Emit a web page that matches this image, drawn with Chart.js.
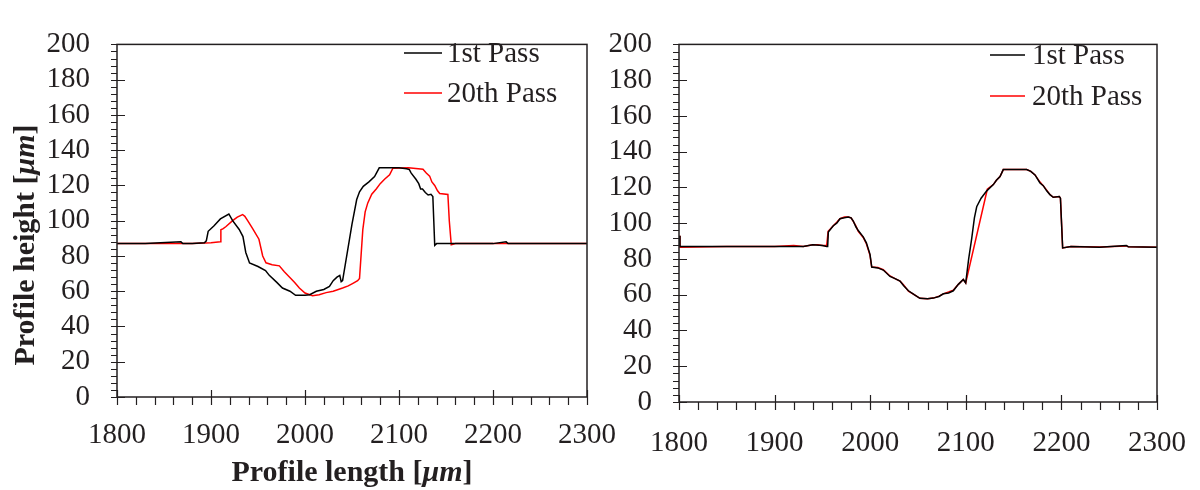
<!DOCTYPE html>
<html>
<head>
<meta charset="utf-8">
<title>Profile height</title>
<script src="https://cdn.jsdelivr.net/npm/chart.js@4.4.1/dist/chart.umd.min.js"></script>
<style>
  body { margin: 0; background: #fff; }
  #wrap { position: relative; width: 1200px; height: 490px; overflow: hidden; }
  canvas { position: absolute; top: 0; }
  #left { left: 0; }
  #right { left: 600px; }
</style>
</head>
<body>
<div id="wrap">
  <canvas id="left" width="640" height="490"></canvas>
  <canvas id="right" width="630" height="490"></canvas>
</div>
<script>
// series names
var seriesNames = ['1st Pass', '20th Pass']

// left panel: profile after 1st and 20th pass (x in um, height in um)
var leftPass1X = [1800,1830,1868,1870,1880,1893,1895,1897,1903,1910,1919,1923,1930,1934,1937,1941,1950,1958,1962,1970,1976,1984,1990,2000,2005,2012,2020,2026,2030,2034,2037,2038.5,2040,2050,2055,2058,2062,2068,2074,2079,2090,2100,2108,2111,2113,2118,2121,2123,2125,2128,2131,2134,2136,2137,2138,2140,2160,2200,2214,2216,2250,2300]
var leftPass1Y = [87,87,88,87,87,87.5,88.6,94,97,101,103.8,100,95,91,82,76,74,71.7,69,65,61.8,60,57.7,57.7,58,60,61,62.7,66,68,69,65.4,66,98,112,116.4,119.5,122,125,130,130,130,129.5,129,127,123.5,121,118,118,116,114.6,115,113.7,100,86,87,87,87,88,87,87,87]

var leftPass20X = [1800,1850,1880,1900,1910,1910.5,1913,1916,1923,1928,1933.6,1936,1939,1944,1951,1955,1958.5,1965,1972.7,1978,1983.4,1989,1994,2000,2008,2015,2022.5,2030,2040,2046,2051,2056,2058,2061.5,2064,2066.8,2071,2076,2080,2084.6,2090,2093.5,2110,2125.5,2129,2132.6,2135,2138,2141,2143.3,2152,2153.5,2155.6,2160,2200,2250,2300]
var leftPass20Y = [87,87,87,87.5,88,94.9,95.5,96.7,100,102,103.5,102.5,100,95.8,89.5,80,76.1,75,74.4,71,68.1,65,61.8,59,57.4,58,59.2,60,61.8,63,64.5,66,67.2,94.9,105,110.1,115,118.1,121,123.5,126,129.8,130,129.2,127,125.3,122,120,117,115.4,114.9,100,86.3,87,87,87,87]

// right panel
var rightPass1X = [1800,1801,1850,1900,1920,1930,1940,1950,1954.5,1955.5,1956.2,1961.4,1965,1968.4,1973,1977,1980,1982.3,1985,1987.5,1992.7,1996,1999.8,2001.6,2008,2013.7,2020.7,2026,2031.2,2035,2040,2046,2052,2060,2066,2072,2076.5,2082,2086.9,2092.2,2097.4,2099.9,2103,2106.2,2109,2111.4,2116,2121.9,2128.8,2132,2135.8,2139.2,2150,2163.7,2168,2172.4,2177.6,2181,2184.6,2188,2191.5,2197.8,2199,2201.3,2210,2240,2268,2270,2300]
var rightPass1Y = [93,87,87,87,87,87,88,87.5,87,87,95,98.6,100,102.5,103,103.5,103,101.2,98,95.9,92.4,89,82.6,75.5,75,73.8,70.2,69,67.6,65,62.2,60,58,57.8,58.1,59,60.5,61,62.2,65.8,68.5,66.6,80,91.5,103,109.2,114,118.1,121.6,124,126.1,130,130,130,129,127,122.5,121,118.1,116,114.5,114.9,114,86.2,87,86.5,87.5,86.8,86.5]

var rightPass20X = [1800,1801,1850,1900,1920,1930,1940,1945,1950,1954.5,1956,1961.4,1965,1968.4,1973,1977,1980,1982.3,1985,1987.5,1992.7,1996,1999.8,2001.6,2008,2013.7,2020.7,2026,2031.2,2035,2040,2046,2052,2060,2066,2072,2076.5,2082,2086.9,2092.2,2097.4,2099.9,2122.5,2128.8,2132,2135.8,2139.2,2150,2163.7,2168,2172.4,2177.6,2181,2184.6,2188,2191.5,2197.8,2199,2201.3,2210,2240,2268,2270,2300]
var rightPass20Y = [93,86.5,87,87,87.5,87,88,88,87.5,87.5,95.5,98.6,100.5,102.5,103.5,103.5,103,101,98.5,95.5,92,88.5,82,75.5,75.2,74,70.5,69,67.6,65.5,62,60,58,57.8,58.1,59.2,60.5,61.5,62.5,65.8,68.5,66.6,119,121.6,124,126.1,130,130,130,129,127,123,121,118.5,116,114.5,114.9,114,86.2,87,86.7,87.3,86.8,86.5]

var xTicks = [1800,1900,2000,2100,2200,2300]
var yTicks = [0,20,40,60,80,100,120,140,160,180,200]

var ink = '#231f20'
var serif = '"Liberation Serif", "Times New Roman", serif'
var lineColors = ['#000000', '#ff0000']

function pts(xs, ys) {
  return xs.map(function (x, i) { return {x: x, y: ys[i]} })
}

// box frame, major/minor tick marks, legend and axis titles
var decor = {
  id: 'decor',
  afterDraw: function (chart, args, opts) {
    var ctx = chart.ctx, a = chart.chartArea
    var x = chart.scales.x, y = chart.scales.y
    ctx.save()
    ctx.strokeStyle = ink
    ctx.lineWidth = 1.5
    ctx.strokeRect(a.left, a.top, a.right - a.left, a.bottom - a.top)
    ctx.lineWidth = 1.2
    ctx.beginPath()
    for (var v = 1800; v <= 2300; v += 20) {
      var px = Math.round(x.getPixelForValue(v)) + 0.5
      var major = v % 100 === 0
      ctx.moveTo(px, a.bottom - (major ? 7 : 0))
      ctx.lineTo(px, a.bottom + 8)
    }
    for (var w = 0; w <= 200; w += 4) {
      var py = Math.round(y.getPixelForValue(w)) + 0.5
      var big = w % 20 === 0
      ctx.moveTo(a.left - 6, py)
      ctx.lineTo(a.left + (big ? 8 : 0), py)
    }
    ctx.stroke()

    // legend
    ctx.font = '29px ' + serif
    ctx.textBaseline = 'middle'
    ctx.fillStyle = ink
    chart.data.datasets.forEach(function (ds, i) {
      var ly = opts.legY[i]
      ctx.strokeStyle = ds.borderColor
      ctx.lineWidth = 1.5
      ctx.beginPath()
      ctx.moveTo(opts.legX[0], ly)
      ctx.lineTo(opts.legX[1], ly)
      ctx.stroke()
      ctx.fillText(ds.label, opts.legX[2], ly + 1)
    })

    if (opts.titles) {
      drawTitle(ctx, 'Profile length [', 'μm', ']', (a.left + a.right) / 2, 473, 0)
      drawTitle(ctx, 'Profile height [', 'μm', ']', 26, 245, -Math.PI / 2)
    }
    ctx.restore()
  }
}

function drawTitle(ctx, pre, unit, post, cx, cy, rot) {
  var bold = 'bold 30px ' + serif
  var ital = 'italic bold 30px ' + serif
  ctx.font = bold
  var w1 = ctx.measureText(pre).width, w3 = ctx.measureText(post).width
  ctx.font = ital
  var w2 = ctx.measureText(unit).width
  var total = w1 + w2 + w3
  ctx.save()
  ctx.translate(cx, cy)
  ctx.rotate(rot)
  ctx.fillStyle = ink
  ctx.textBaseline = 'middle'
  ctx.textAlign = 'left'
  var sx = -total / 2
  ctx.font = bold
  ctx.fillText(pre, sx, 0)
  ctx.font = ital
  ctx.fillText(unit, sx + w1, 0)
  ctx.font = bold
  ctx.fillText(post, sx + w1 + w2, 0)
  ctx.restore()
}

function plain(v) { return String(v) }

function makeChart(id, p1, p20, box, decorOpts) {
  var tickFont = {family: serif, size: 29}
  return new Chart(document.getElementById(id), {
    type: 'line',
    data: {
      datasets: [
        {label: seriesNames[0], data: p1, borderColor: lineColors[0], borderWidth: 1.5, pointRadius: 0, tension: 0},
        {label: seriesNames[1], data: p20, borderColor: lineColors[1], borderWidth: 1.5, pointRadius: 0, tension: 0}
      ]
    },
    options: {
      responsive: false,
      animation: false,
      layout: {padding: {top: box.top, right: box.right, left: 0, bottom: 0}},
      plugins: {legend: {display: false}, tooltip: {enabled: false}, decor: decorOpts},
      scales: {
        x: {
          type: 'linear', min: 1800, max: 2300,
          afterBuildTicks: function (s) { s.ticks = xTicks.map(function (v) { return {value: v} }) },
          afterFit: function (s) { s.height = box.xh },
          grid: {display: false, drawTicks: false},
          border: {display: false},
          ticks: {font: tickFont, color: ink, padding: box.xpad, maxRotation: 0, autoSkip: false, callback: plain}
        },
        y: {
          min: 0, max: 200,
          afterBuildTicks: function (s) { s.ticks = yTicks.map(function (v) { return {value: v} }) },
          afterFit: function (s) { s.width = box.yw },
          grid: {display: false, drawTicks: false},
          border: {display: false},
          ticks: {font: tickFont, color: ink, padding: 27, autoSkip: false, callback: plain}
        }
      }
    },
    plugins: [decor]
  })
}

makeChart('left', pts(leftPass1X, leftPass1Y), pts(leftPass20X, leftPass20Y),
  {top: 24, right: 53, xh: 93, yw: 117, xpad: 21},
  {legX: [404, 442, 447], legY: [53, 93], titles: true})

makeChart('right', pts(rightPass1X, rightPass1Y), pts(rightPass20X, rightPass20Y),
  {top: 26, right: 73, xh: 88, yw: 79, xpad: 24},
  {legX: [390, 425, 432], legY: [55, 96], titles: false})
</script>
</body>
</html>
